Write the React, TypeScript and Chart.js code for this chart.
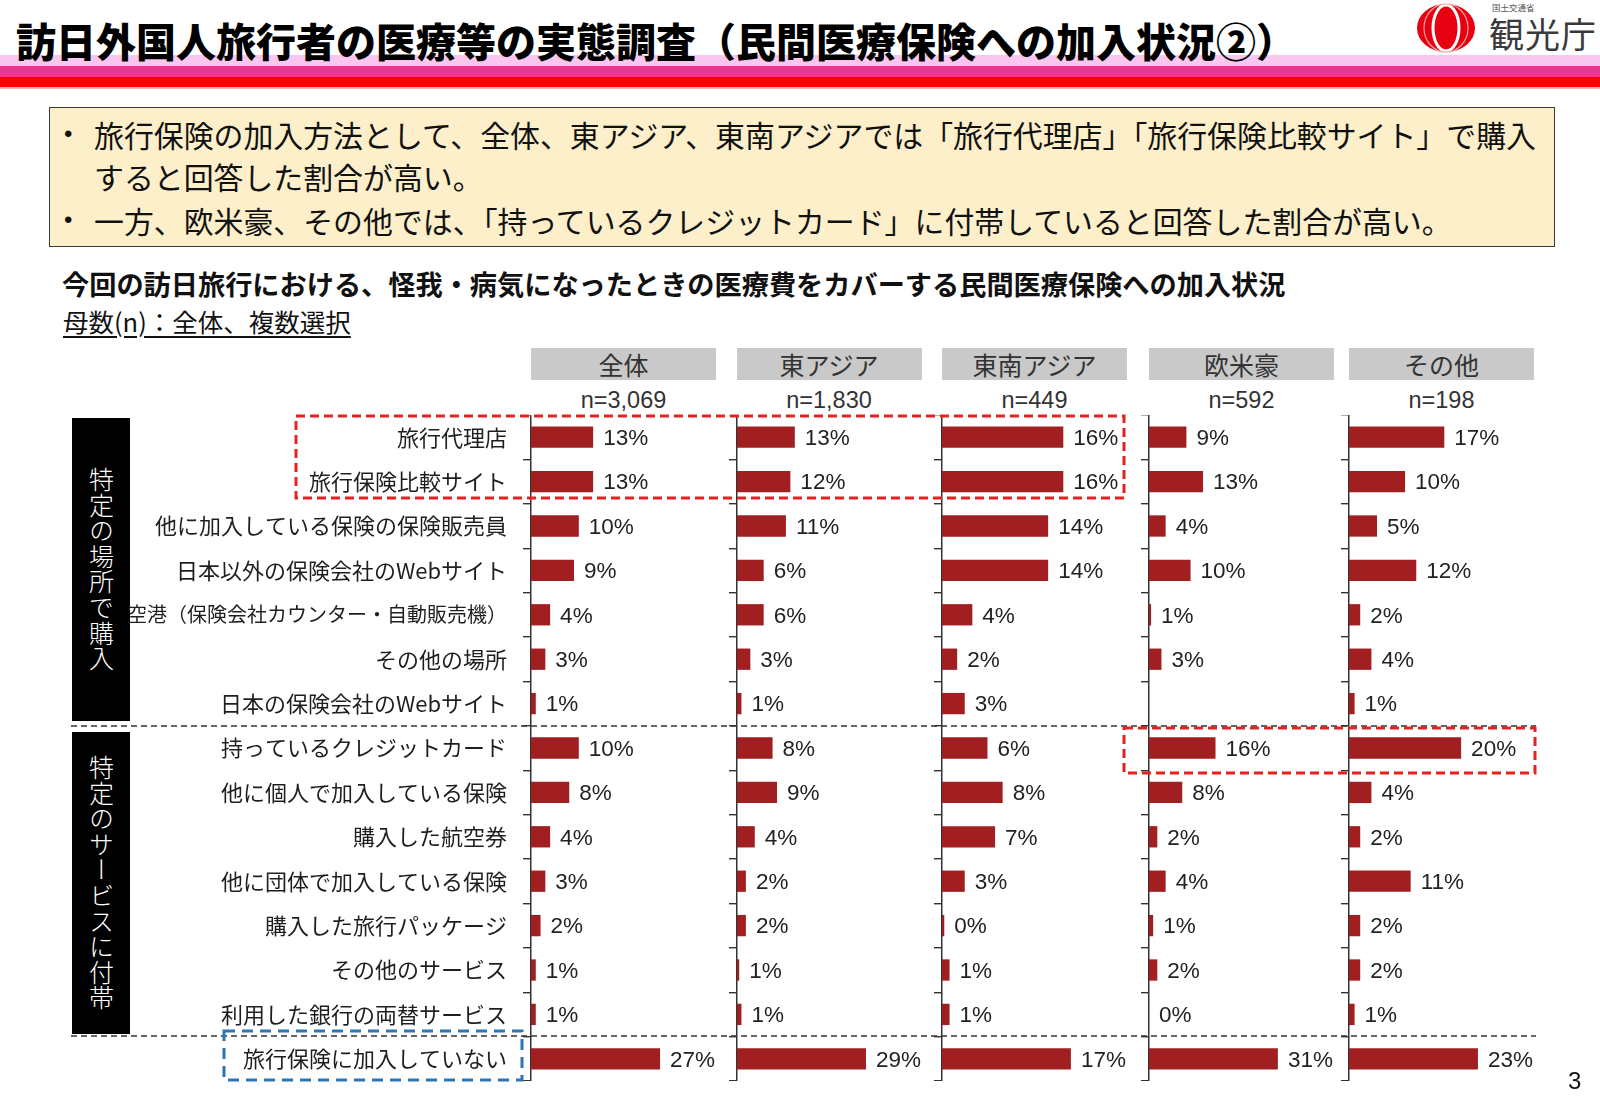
import React, { useEffect, useRef } from 'react';
import { Chart, registerables } from 'chart.js';

Chart.register(...registerables);

// ---------------- data ----------------
const CATEGORIES = [
  '旅行代理店',
  '旅行保険比較サイト',
  '他に加入している保険の保険販売員',
  '日本以外の保険会社のWebサイト',
  '空港（保険会社カウンター・自動販売機）',
  'その他の場所',
  '日本の保険会社のWebサイト',
  '持っているクレジットカード',
  '他に個人で加入している保険',
  '購入した航空券',
  '他に団体で加入している保険',
  '購入した旅行パッケージ',
  'その他のサービス',
  '利用した銀行の両替サービス',
  '旅行保険に加入していない',
];

const REGIONS = ['全体', '東アジア', '東南アジア', '欧米豪', 'その他'];
const SAMPLE_SIZES = ['n=3,069', 'n=1,830', 'n=449', 'n=592', 'n=198'];

const ALL = [13, 13, 10, 9, 4, 3, 1, 10, 8, 4, 3, 2, 1, 1, 27];
const EAST_ASIA = [13, 12, 11, 6, 6, 3, 1, 8, 9, 4, 2, 2, 0.5, 1, 29];
const SOUTHEAST_ASIA = [16, 16, 14, 14, 4, 2, 3, 6, 8, 7, 3, 0.3, 1, 1, 17];
const WESTERN = [9, 13, 4, 10, 0.5, 3, null, 16, 8, 2, 4, 1, 2, 0, 31];
const OTHER = [17, 10, 5, 12, 2, 4, 1, 20, 4, 2, 11, 2, 2, 1, 23];

const SERIES = [ALL, EAST_ASIA, SOUTHEAST_ASIA, WESTERN, OTHER];
// value-axis maximum of each panel (in %)
const AXIS_MAX = [38.7, 41.6, 24.4, 44.5, 33.0];

// ---------------- layout / style ----------------
const JP = '"Noto Sans CJK JP", "Noto Sans JP", sans-serif';
const LATIN = '"Liberation Sans", Arial, sans-serif';
const BAR_COLOR = '#A11F21';
const AXIS_COLOR = '#333333';
const PANEL_X = [531, 736.5, 942, 1149, 1349];
const PLOT_W = 185;
const CHART_TOP = 415;
const CHART_H = 666;
const FIRST_LEFT = 60;

const valueLabelPlugin = {
  id: 'valueLabels',
  afterDatasetsDraw(chart: any) {
    const ctx = chart.ctx;
    const meta = chart.getDatasetMeta(0);
    const data = chart.data.datasets[0].data;
    ctx.save();
    ctx.font = `22.5px ${LATIN}`;
    ctx.fillStyle = '#222222';
    ctx.textBaseline = 'middle';
    ctx.textAlign = 'left';
    meta.data.forEach((bar: any, i: number) => {
      const v = data[i];
      if (v === null || v === undefined) return;
      ctx.fillText(`${Math.round(v)}%`, bar.x + 10, bar.y + 1.5);
    });
    ctx.restore();
  },
};

function Panel({ index }: { index: number }) {
  const ref = useRef<HTMLCanvasElement>(null);
  const first = index === 0;
  const yWidth = first ? PANEL_X[0] - FIRST_LEFT : 10;
  const left = first ? FIRST_LEFT : PANEL_X[index] - 10;
  const width = yWidth + PLOT_W + 22;

  useEffect(() => {
    const chart = new Chart(ref.current as HTMLCanvasElement, {
      type: 'bar',
      data: {
        labels: CATEGORIES,
        datasets: [
          {
            data: SERIES[index] as any,
            backgroundColor: BAR_COLOR,
            borderWidth: 0,
            barPercentage: 0.48,
            categoryPercentage: 1,
          },
        ],
      },
      options: {
        indexAxis: 'y',
        responsive: false,
        animation: false,
        devicePixelRatio: 1,
        events: [],
        layout: { padding: { left: 0, right: 22, top: 0, bottom: 0 } },
        plugins: {
          legend: { display: false },
          tooltip: { enabled: false },
          title: { display: false },
        },
        scales: {
          x: { display: false, min: 0, max: AXIS_MAX[index] },
          y: {
            position: 'left',
            grid: {
              display: true,
              offset: true,
              drawOnChartArea: false,
              drawTicks: true,
              tickLength: 8,
              color: AXIS_COLOR,
              tickColor: AXIS_COLOR,
              lineWidth: 1.4,
            },
            border: { display: true, color: AXIS_COLOR, width: 1.5 },
            ticks: {
              display: first,
              autoSkip: false,
              padding: 16,
              color: '#1e1e1e',
              font: (c: any) => ({ family: JP, size: c.index === 4 ? 20 : 22 }),
            },
            afterFit: (scale: any) => {
              scale.width = yWidth;
              scale.paddingTop = 0;
              scale.paddingBottom = 0;
            },
          },
        },
      },
      plugins: [valueLabelPlugin],
    });
    return () => chart.destroy();
  }, []);

  return (
    <canvas
      ref={ref}
      width={width}
      height={CHART_H}
      style={{ position: 'absolute', left, top: CHART_TOP, width, height: CHART_H }}
    />
  );
}

function Line({ x, cy, size, children, style }: any) {
  const h = Math.round(size * 1.4);
  return (
    <div
      style={{
        position: 'absolute',
        left: x,
        top: cy - h / 2 - size * 0.05,
        height: h,
        lineHeight: `${h}px`,
        fontSize: size,
        whiteSpace: 'nowrap',
        fontFamily: JP,
        ...style,
      }}
    >
      {children}
    </div>
  );
}

export default function App() {
  return (
    <div
      style={{
        position: 'absolute',
        left: 0,
        top: 0,
        width: 1600,
        height: 1108,
        background: '#ffffff',
        overflow: 'hidden',
        fontFamily: JP,
        color: '#111',
      }}
    >
      {/* header stripes */}
      <div style={{ position: 'absolute', left: 0, top: 55, width: 1600, height: 11, background: '#F8C6EF' }} />
      <div style={{ position: 'absolute', left: 0, top: 66, width: 1600, height: 11, background: '#EE3592' }} />
      <div style={{ position: 'absolute', left: 0, top: 77, width: 1600, height: 10, background: '#FF0000' }} />
      <div style={{ position: 'absolute', left: 0, top: 87, width: 1600, height: 2, background: '#F6B3A8' }} />

      {/* title */}
      <Line x={16} cy={42} size={40} style={{ fontWeight: 900, color: '#000' }}>
        訪日外国人旅行者の医療等の実態調査（民間医療保険への加入状況②）
      </Line>

      {/* logo */}
      <svg
        width={70}
        height={54}
        style={{ position: 'absolute', left: 1412, top: 2 }}
        viewBox="0 0 70 54"
      >
        <ellipse cx={34} cy={26} rx={29} ry={24} fill="#E60012" />
        <ellipse cx={34} cy={26} rx={13} ry={23} fill="none" stroke="#ffffff" strokeWidth={3} />
        <ellipse cx={34} cy={26} rx={22} ry={24} fill="none" stroke="#F6A0A0" strokeWidth={1.2} />
      </svg>
      <div
        style={{
          position: 'absolute',
          left: 1492,
          top: 2,
          fontSize: 8.5,
          lineHeight: '10px',
          color: '#555',
          whiteSpace: 'nowrap',
          fontFamily: JP,
        }}
      >
        国土交通省
      </div>
      <Line x={1489} cy={34} size={35} style={{ color: '#3a3a3a', letterSpacing: '1px' }}>
        観光庁
      </Line>

      {/* summary box */}
      <div
        style={{
          position: 'absolute',
          left: 49,
          top: 107,
          width: 1506,
          height: 140,
          boxSizing: 'border-box',
          background: '#FCEFCA',
          border: '1.5px solid #3a3a3a',
        }}
      />
      <Line x={64} cy={135} size={24} style={{ fontFamily: LATIN, color: '#111' }}>
        •
      </Line>
      <Line x={94} cy={135} size={29.9} style={{ color: '#111' }}>
        旅行保険の加入方法として、全体、東アジア、東南アジアでは「旅行代理店」「旅行保険比較サイト」で購入
      </Line>
      <Line x={94} cy={177} size={29.9} style={{ color: '#111' }}>
        すると回答した割合が高い。
      </Line>
      <Line x={64} cy={221} size={24} style={{ fontFamily: LATIN, color: '#111' }}>
        •
      </Line>
      <Line x={94} cy={221} size={29.9} style={{ color: '#111' }}>
        一方、欧米豪、その他では、「持っているクレジットカード」に付帯していると回答した割合が高い。
      </Line>

      {/* sub heading */}
      <Line x={62} cy={284} size={27.2} style={{ fontWeight: 700, color: '#111' }}>
        今回の訪日旅行における、怪我・病気になったときの医療費をカバーする民間医療保険への加入状況
      </Line>
      <Line x={63} cy={322} size={25.5} style={{ color: '#111', textDecoration: 'underline', textUnderlineOffset: '4px' }}>
        母数(n)：全体、複数選択
      </Line>

      {/* panel headers */}
      {REGIONS.map((r, i) => (
        <React.Fragment key={r}>
          <div
            style={{
              position: 'absolute',
              left: PANEL_X[i],
              top: 348,
              width: PLOT_W,
              height: 32,
              background: '#C9C9C9',
              color: '#333',
              fontSize: 25,
              lineHeight: '32px',
              textAlign: 'center',
              fontFamily: JP,
              whiteSpace: 'nowrap',
            }}
          >
            {r}
          </div>
          <div
            style={{
              position: 'absolute',
              left: PANEL_X[i],
              top: 386,
              width: PLOT_W,
              height: 28,
              color: '#333',
              fontSize: 23.5,
              lineHeight: '28px',
              textAlign: 'center',
              fontFamily: LATIN,
              whiteSpace: 'nowrap',
            }}
          >
            {SAMPLE_SIZES[i]}
          </div>
        </React.Fragment>
      ))}

      {/* group boxes */}
      {[
        { top: 418, h: 303, text: '特定の場所で購入' },
        { top: 732, h: 302, text: '特定のサービスに付帯' },
      ].map((g) => (
        <div
          key={g.text}
          style={{
            position: 'absolute',
            left: 72,
            top: g.top,
            width: 58,
            height: g.h,
            background: '#000',
            display: 'flex',
            alignItems: 'center',
            justifyContent: 'center',
          }}
        >
          <span
            style={{
              writingMode: 'vertical-rl',
              color: '#fff',
              fontSize: 25,
              lineHeight: '25px',
              letterSpacing: '0.6px',
              fontFamily: JP,
              fontWeight: 300,
            }}
          >
            {g.text}
          </span>
        </div>
      ))}

      {/* charts */}
      {REGIONS.map((r, i) => (
        <Panel key={r} index={i} />
      ))}

      {/* separators and highlight boxes */}
      <svg
        width={1600}
        height={1108}
        style={{ position: 'absolute', left: 0, top: 0, pointerEvents: 'none' }}
      >
        <line x1={71} y1={726} x2={1536} y2={726} stroke="#333" strokeWidth={1.3} strokeDasharray="6 4" />
        <line x1={71} y1={1036} x2={1536} y2={1036} stroke="#333" strokeWidth={1.3} strokeDasharray="6 4" />
        <rect x={296} y={416} width={828} height={82} fill="none" stroke="#E52222" strokeWidth={3} strokeDasharray="9 5" />
        <rect x={1124} y={728} width={411} height={45} fill="none" stroke="#E52222" strokeWidth={3} strokeDasharray="9 5" />
        <rect x={224} y={1031} width={298} height={49} fill="none" stroke="#2E75B6" strokeWidth={3} strokeDasharray="11 7" />
      </svg>

      {/* page number */}
      <Line x={1568} cy={1082} size={24} style={{ fontFamily: LATIN, color: '#111' }}>
        3
      </Line>
    </div>
  );
}
